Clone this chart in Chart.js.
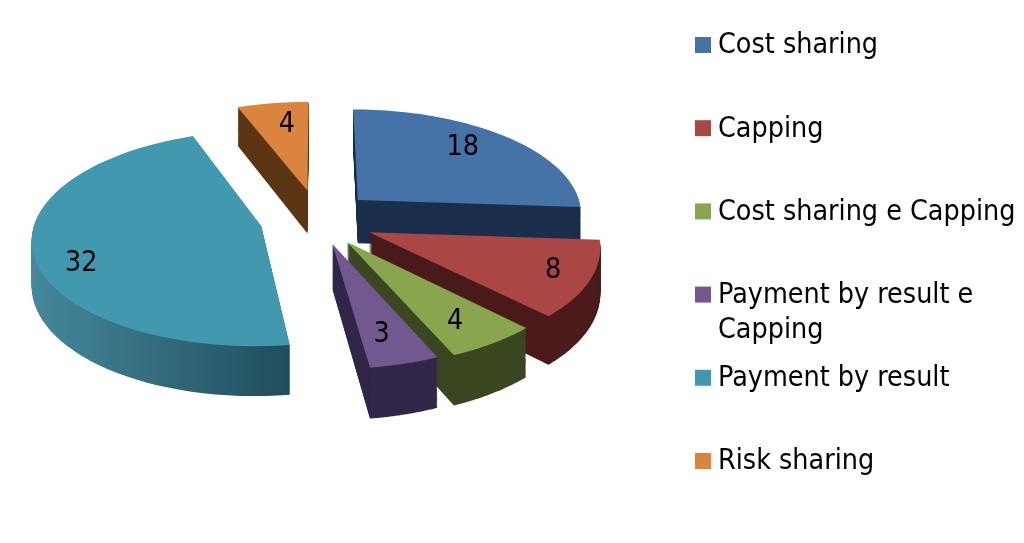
<!DOCTYPE html>
<html>
<head>
<meta charset="utf-8">
<style>
html, body { margin: 0; padding: 0; background: #fff; }
#wrap { position: relative; width: 1024px; height: 543px; }
</style>
<script src="https://cdn.jsdelivr.net/npm/chart.js@4/dist/chart.umd.min.js"></script>
</head>
<body>
<div id="wrap"><canvas id="grafica"></canvas></div>
<script>
// datos
const etiquetas = ["Cost sharing", "Capping", "Cost sharing e Capping", ["Payment by result e", "Capping"], "Payment by result", "Risk sharing"];
const valores = [18, 8, 4, 3, 32, 4];
// colores de la cara superior y de la pared
const colores = ["#4573a7", "#aa4643", "#89a54e", "#71588f", "#4198af", "#db843d"];
const paredes = ["#1b2f4c", "#4a1b1a", "#3a4720", "#32274a", null, "#5c3614"];
// separacion de cada porcion y pequeño corrimiento horizontal
const separacion = [64, 62, 56, 52, 52, 66];
const corrimiento = [0, 0, 3, 6, 0, 7];
// ajuste de la posicion de cada numero
const ajusteTexto = [[-3, -6], [27, 5], [6, 9], [-1, 7], [-17, 18], [5, -1]];

// vista 3D del pastel
const centroY = 220, inclinacion = 0.465, fuga = 2000, grosor = 44;
const fuente = '28.4px "DejaVu Sans Condensed", "DejaVu Sans"';

function proyectar(arc, dx, dy, z) {
  const s = fuga / (fuga - dy);
  return { x: arc.x + dx * s, y: centroY + (dy * inclinacion + z) * s };
}

function contorno(ctx, arc, i, z) {
  const medio = (arc.startAngle + arc.endAngle) / 2;
  const ox = Math.cos(medio) * arc.options.offset;
  const oy = Math.sin(medio) * arc.options.offset;
  const n = corrimiento[i];
  ctx.beginPath();
  let p = proyectar(arc, ox, oy, z);
  ctx.moveTo(p.x + n, p.y);
  for (let k = 0; k <= 60; k++) {
    const a = arc.startAngle + (arc.endAngle - arc.startAngle) * k / 60;
    p = proyectar(arc, ox + Math.cos(a) * arc.outerRadius, oy + Math.sin(a) * arc.outerRadius, z);
    ctx.lineTo(p.x + n, p.y);
  }
  ctx.closePath();
}

const pastel3d = {
  id: "pastel3d",
  beforeDatasetsDraw(chart) {
    const ctx = chart.ctx;
    const arcos = chart.getDatasetMeta(0).data.map((arc, i) => ({ arc, i }));
    // de atras hacia adelante
    arcos.sort((a, b) => Math.sin((a.arc.startAngle + a.arc.endAngle) / 2) - Math.sin((b.arc.startAngle + b.arc.endAngle) / 2));
    ctx.save();
    for (const { arc, i } of arcos) {
      let relleno = paredes[i];
      if (!relleno) {
        relleno = ctx.createLinearGradient(35, 0, 292, 0);
        relleno.addColorStop(0, "#45879c");
        relleno.addColorStop(1, "#1f4d5c");
      }
      ctx.fillStyle = relleno;
      for (let z = grosor; z > 0; z -= 1) {
        contorno(ctx, arc, i, z);
        ctx.fill();
      }
    }
    for (const { arc, i } of arcos) {
      ctx.fillStyle = colores[i];
      contorno(ctx, arc, i, 0);
      ctx.fill();
    }
    // valores sobre cada porcion
    ctx.fillStyle = "#000";
    ctx.font = fuente;
    ctx.textAlign = "center";
    ctx.textBaseline = "middle";
    for (const { arc, i } of arcos) {
      const medio = (arc.startAngle + arc.endAngle) / 2;
      const r = arc.options.offset + arc.outerRadius * 0.72;
      const p = proyectar(arc, Math.cos(medio) * r, Math.sin(medio) * r, 0);
      ctx.fillText(String(valores[i]), p.x + corrimiento[i] + ajusteTexto[i][0], p.y + ajusteTexto[i][1]);
    }
    ctx.restore();
    return false;
  }
};

// leyenda con el mismo paso entre filas que la original
const leyenda = {
  id: "leyenda",
  afterDraw(chart) {
    const ctx = chart.ctx;
    ctx.save();
    ctx.font = fuente;
    ctx.textBaseline = "middle";
    ctx.textAlign = "left";
    etiquetas.forEach((texto, i) => {
      const y = 45 + i * 83.2;
      ctx.fillStyle = colores[i];
      ctx.fillRect(695, y - 8, 16, 16);
      ctx.fillStyle = "#000";
      [].concat(texto).forEach((linea, n) => ctx.fillText(linea, 718, y + 1 + n * 35));
    });
    ctx.restore();
  }
};

new Chart(document.querySelector("#grafica"), {
  type: "pie",
  data: {
    labels: etiquetas,
    datasets: [{ data: valores, backgroundColor: colores, offset: separacion, borderWidth: 0, radius: 226 }]
  },
  options: {
    responsive: true,
    maintainAspectRatio: false,
    animation: false,
    layout: { padding: { right: 400 } },
    plugins: { legend: { display: false }, tooltip: { enabled: false } }
  },
  plugins: [pastel3d, leyenda]
});
</script>
</body>
</html>
